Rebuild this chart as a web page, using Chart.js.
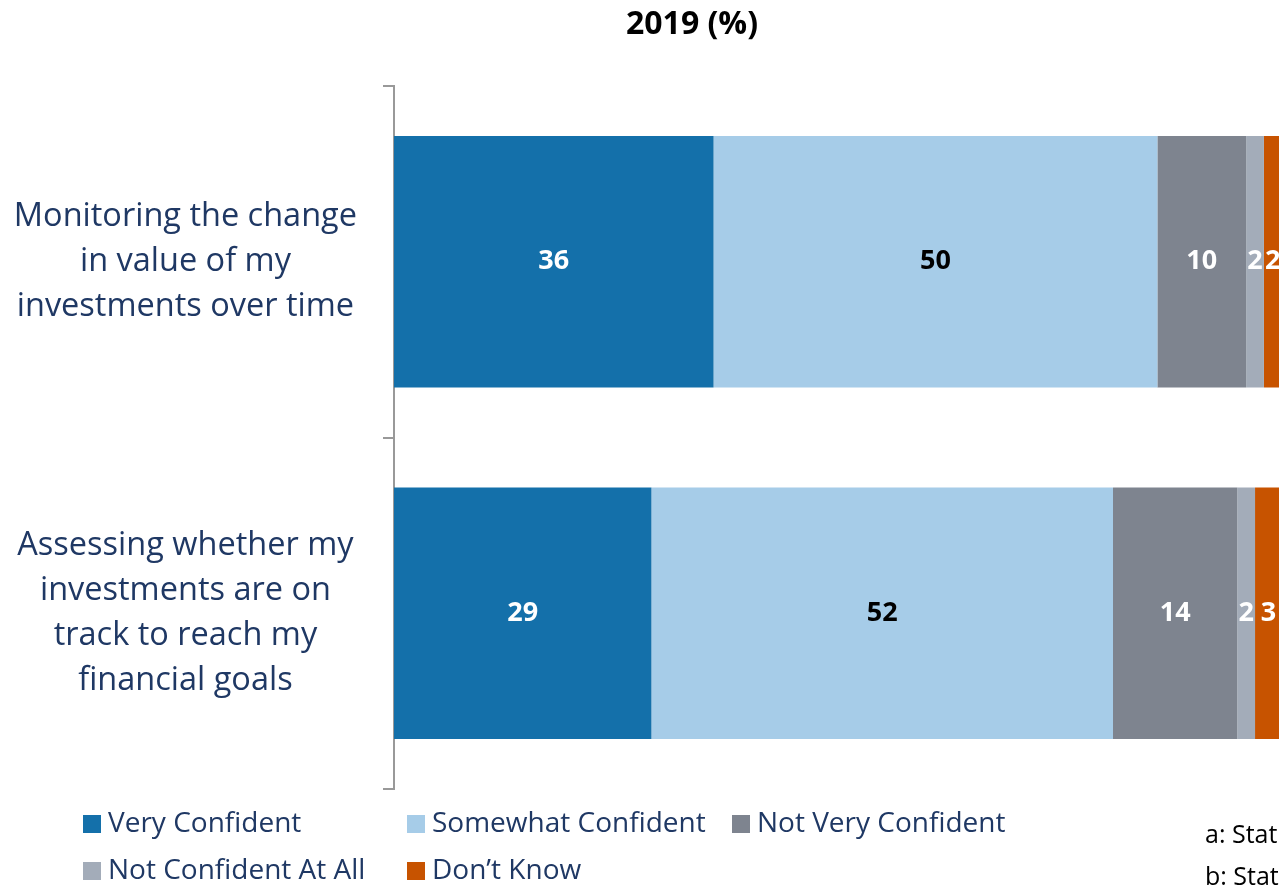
<!DOCTYPE html>
<html>
<head>
<meta charset="utf-8">
<script src="https://cdn.jsdelivr.net/npm/chart.js@4"></script>
<style>
  html, body { margin: 0; padding: 0; background: #fff; overflow: hidden; }
  #wrap { width: 1279px; height: 885px; position: relative; }
</style>
</head>
<body>
<div id="wrap"><canvas id="myChart" width="1279" height="885"></canvas></div>
<script>
// chart data
const categories = [
  ['Monitoring the change', 'in value of my', 'investments over time'],
  ['Assessing whether my', 'investments are on', 'track to reach my', 'financial goals']
];
const seriesNames = ['Very Confident', 'Somewhat Confident', 'Not Very Confident', 'Not Confident At All', 'Don\u2019t Know'];
const veryConfident = [36, 29];
const somewhatConfident = [50, 52];
const notVeryConfident = [10, 14];
const notConfidentAtAll = [2, 2];
const dontKnow = [2, 3];
const notes = ['a: Statistically significant', 'b: Statistically significant'];

const seriesColors = ['#1470AA', '#A6CCE8', '#7E848F', '#A3ACB9', '#C75300'];
const labelColors = ['#fff', '#000', '#fff', '#fff', '#fff'];
const navy = '#1F3864';
const font = '"Open Sans", sans-serif';

const allValues = [veryConfident, somewhatConfident, notVeryConfident, notConfidentAtAll, dontKnow];

// values in the middle of each bar segment
const valueLabels = {
  id: 'valueLabels',
  afterDatasetsDraw(chart) {
    const ctx = chart.ctx;
    ctx.save();
    ctx.font = 'bold 27px ' + font;
    ctx.textAlign = 'center';
    ctx.textBaseline = 'middle';
    chart.data.datasets.forEach((ds, i) => {
      chart.getDatasetMeta(i).data.forEach((bar, j) => {
        ctx.fillStyle = labelColors[i];
        const x = (bar.x + bar.base) / 2;
        ctx.fillText(ds.data[j], x, bar.y);
      });
    });
    ctx.restore();
  }
};

// title, legend and notes drawn in the reference's places
const extras = {
  id: 'extras',
  afterDraw(chart) {
    const ctx = chart.ctx;
    ctx.save();
    ctx.fillStyle = '#000';
    ctx.font = 'bold 32px ' + font;
    ctx.textAlign = 'center';
    ctx.textBaseline = 'middle';
    ctx.fillText('2019 (%)', 692, 25);

    ctx.font = '28px ' + font;
    ctx.textAlign = 'left';
    const colX = [83, 407, 732];
    chart.data.datasets.forEach((ds, i) => {
      const col = i < 3 ? i : i - 3;
      const row = i < 3 ? 0 : 1;
      const x = colX[col];
      const y = 824 + row * 47;
      ctx.fillStyle = ds.backgroundColor;
      ctx.fillRect(x, y - 9, 18, 18);
      ctx.fillStyle = navy;
      ctx.fillText(ds.label, x + 25, y);
    });

    ctx.fillStyle = '#000';
    ctx.font = '25px ' + font;
    notes.forEach((n, i) => ctx.fillText(n, 1205, 836 + i * 42));
    ctx.restore();
  }
};

const elCanvas = document.getElementById('myChart').getContext('2d');

new Chart(elCanvas, {
  type: 'bar',
  data: {
    labels: categories,
    datasets: allValues.map((vals, i) => ({
      label: seriesNames[i],
      data: vals,
      backgroundColor: seriesColors[i],
      barPercentage: 0.715,
      categoryPercentage: 1
    }))
  },
  options: {
    indexAxis: 'y',
    responsive: false,
    animation: false,
    layout: { padding: { top: 86, bottom: 96, left: 0, right: 0 } },
    plugins: {
      legend: { display: false },
      title: { display: false },
      tooltip: { enabled: false }
    },
    scales: {
      x: {
        stacked: true,
        display: false,
        min: 0,
        max: 99.7
      },
      y: {
        stacked: true,
        afterFit(scale) {
          scale.width = 394;
          scale.paddingTop = 0;
          scale.paddingBottom = 0;
        },
        border: { color: '#999', width: 2 },
        grid: {
          offset: true,
          drawOnChartArea: false,
          drawTicks: true,
          tickLength: 11,
          color: '#999',
          lineWidth: 2
        },
        ticks: {
          color: navy,
          crossAlign: 'center',
          padding: 26,
          font: { family: '"Open Sans", sans-serif', size: 32.5, lineHeight: 1.38 }
        }
      }
    }
  },
  plugins: [valueLabels, extras]
});
</script>
</body>
</html>
